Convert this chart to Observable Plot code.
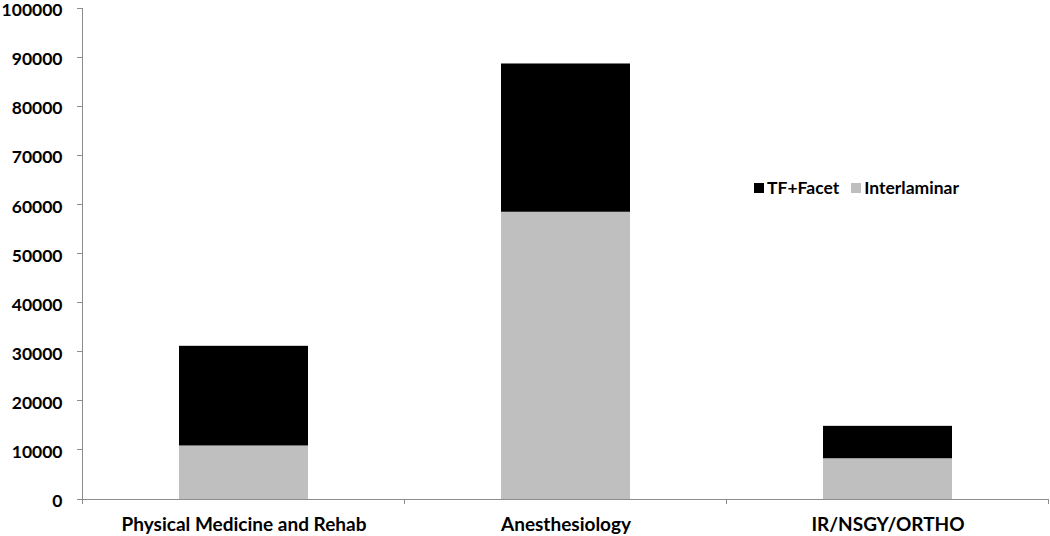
<!DOCTYPE html>
<html>
<head>
<meta charset="utf-8">
<script src="https://cdn.jsdelivr.net/npm/d3@7"></script>
<script src="https://cdn.jsdelivr.net/npm/@observablehq/plot@0.6"></script>
<style>
  body { margin: 0; background: #fff; }
  #wrap { position: relative; width: 1050px; height: 536px; font-family: Lato, "Open Sans", sans-serif; font-weight: bold; }
  #legend { position: absolute; left: 754px; top: 177px; display: flex; align-items: center; font-size: 17.5px; color: #000; }
  #legend .sw { width: 10px; height: 10px; display: inline-block; margin-right: 3px; }
  #legend .item { display: flex; align-items: center; margin-right: 12px; }
</style>
</head>
<body>
<div id="wrap"><div id="legend"></div></div>
<script>
const categories = ["Physical Medicine and Rehab", "Anesthesiology", "IR/NSGY/ORTHO"];
const seriesNames = ["Interlaminar", "TF+Facet"];
const interlaminar = [10900, 58500, 8300];
const tfFacet = [20300, 30200, 6600];
const yTicks = [0, 10000, 20000, 30000, 40000, 50000, 60000, 70000, 80000, 90000, 100000];
const colors = ["#BFBFBF", "#000000"];

const data = [];
categories.forEach((c, i) => data.push({cat: c, series: "Interlaminar", value: interlaminar[i]}));
categories.forEach((c, i) => data.push({cat: c, series: "TF+Facet", value: tfFacet[i]}));

const chart = Plot.plot({
  width: 1050,
  height: 536,
  marginLeft: 82,
  marginRight: 2,
  marginTop: 8,
  marginBottom: 37,
  style: {fontFamily: "Lato, 'Open Sans', sans-serif", fontWeight: "bold", fontSize: "18px", color: "#000", background: "#fff", overflow: "visible"},
  x: {domain: categories, paddingInner: 0.6, paddingOuter: 0.3, label: null},
  y: {domain: [0, 100000], label: null},
  color: {domain: seriesNames, range: colors},
  marks: [
    Plot.barY(data, {x: "cat", y: "value", fill: "series", order: null}),
    Plot.axisY({ticks: yTicks, tickFormat: d => String(d), tickSize: 0, tickPadding: 20, label: null, fontSize: 17.5, fontWeight: "bold", fill: "#000", dy: 2}),
    Plot.axisX({tickSize: 0, tickPadding: 18, label: null, fontSize: 19, fontWeight: "bold", fill: "#000"})
  ]
});

document.getElementById("wrap").prepend(chart);

// axis lines and separators from the chart's own scales
const xs = chart.scale("x");
const ys = chart.scale("y");
const svg = d3.select(chart);
const g = svg.append("g").attr("stroke", "#8c8c8c").attr("stroke-width", 1).attr("shape-rendering", "crispEdges");
const x0 = xs.range[0], x1 = xs.range[1];
const yZero = ys.apply(0), yTop = ys.apply(100000);
g.append("line").attr("x1", x0).attr("x2", x0).attr("y1", yTop).attr("y2", yZero + 5);
g.append("line").attr("x1", x0 - 5).attr("x2", x1).attr("y1", yZero).attr("y2", yZero);
yTicks.forEach(t => {
  g.append("line").attr("x1", x0 - 5).attr("x2", x0).attr("y1", ys.apply(t)).attr("y2", ys.apply(t));
});
for (let i = 1; i <= categories.length; i++) {
  const xx = x0 + i * xs.step;
  g.append("line").attr("x1", xx).attr("x2", xx).attr("y1", yZero).attr("y2", yZero + 5);
}

// legend (TF+Facet first as in reference)
const legend = d3.select("#legend");
[["TF+Facet", colors[1]], ["Interlaminar", colors[0]]].forEach(([name, col]) => {
  const it = legend.append("div").attr("class", "item");
  it.append("span").attr("class", "sw").style("background", col);
  it.append("span").text(name);
});
</script>
</body>
</html>
